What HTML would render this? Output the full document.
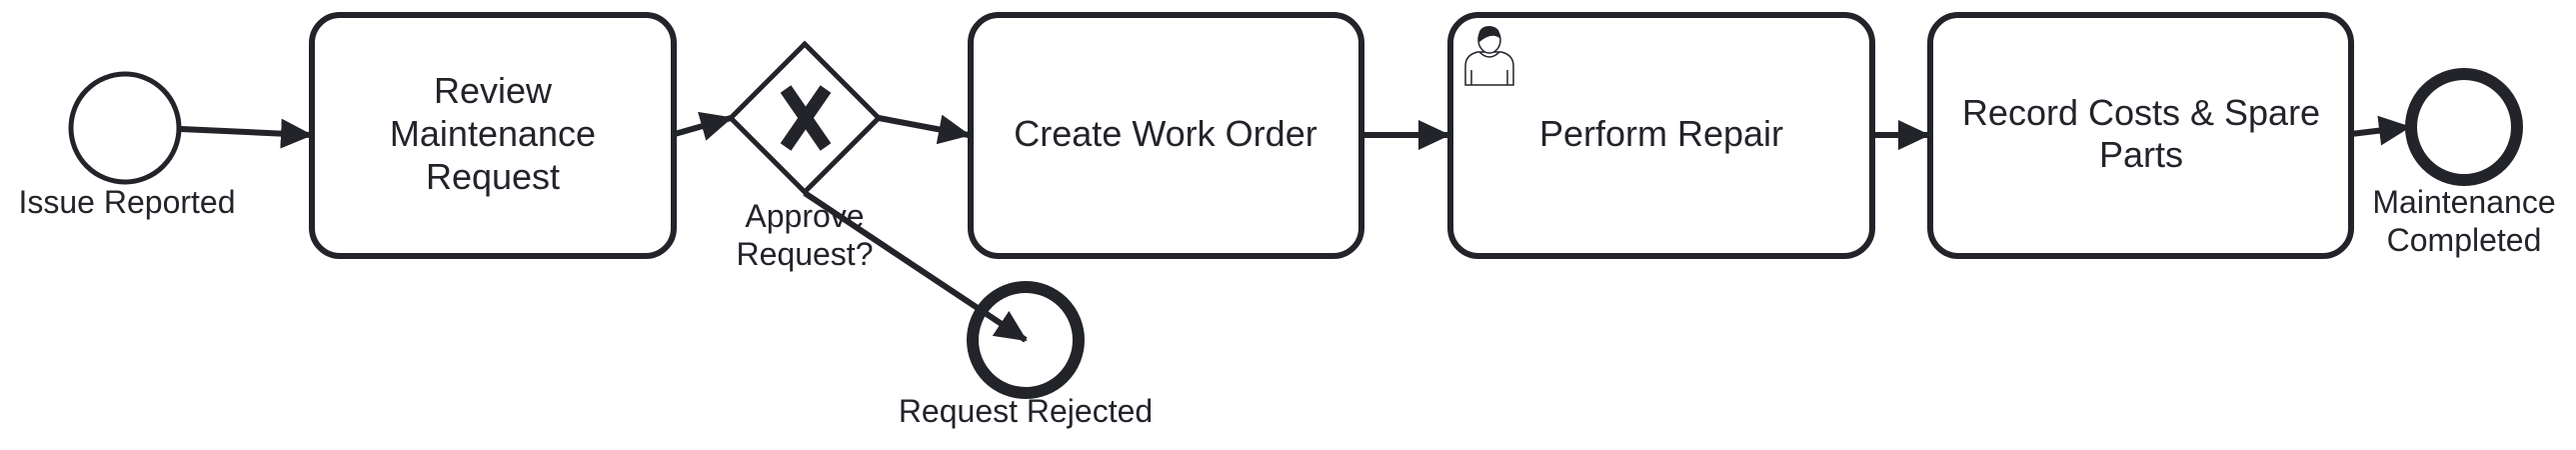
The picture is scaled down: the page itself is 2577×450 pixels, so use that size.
<!DOCTYPE html>
<html><head><meta charset="utf-8"><style>
html,body{margin:0;padding:0;background:#fff;}
svg{display:block;}
text{font-family:"Liberation Sans",sans-serif;fill:#22242a;}
</style></head><body>
<svg width="2577" height="450" viewBox="0 0 2577 450" xmlns="http://www.w3.org/2000/svg">
<defs>
<marker id="a" markerUnits="userSpaceOnUse" markerWidth="32" markerHeight="30" refX="30" refY="15" orient="auto">
<path d="M0,0 L32,15 L0,30 Z" fill="#22242a"/>
</marker>
</defs>
<g stroke="#22242a" fill="none" stroke-width="6">
<circle cx="125" cy="128" r="54" stroke-width="5"/>
<line x1="181" y1="129" x2="311" y2="135" marker-end="url(#a)"/>
<rect x="312" y="15" width="362" height="241" rx="28"/>
<line x1="675" y1="134" x2="731" y2="118" marker-end="url(#a)"/>
<path d="M805,44 L879,118 L805,192 L731,118 Z" stroke-width="5"/>
<line x1="879" y1="118" x2="969" y2="135" marker-end="url(#a)"/>
<line x1="805" y1="193" x2="1026" y2="340" marker-end="url(#a)"/>
<rect x="971" y="15" width="391" height="241" rx="28"/>
<line x1="1362" y1="135" x2="1449" y2="135" marker-end="url(#a)"/>
<rect x="1451" y="15" width="422" height="241" rx="28"/>
<line x1="1873" y1="135" x2="1929" y2="135" marker-end="url(#a)"/>
<rect x="1931" y="15" width="421" height="241" rx="28"/>
<line x1="2352" y1="134" x2="2410" y2="127" marker-end="url(#a)"/>
<circle cx="2465" cy="127" r="53" stroke-width="12"/>
<circle cx="1026" cy="340" r="53" stroke-width="12"/>
</g>
<g stroke="#22242a" stroke-width="13" stroke-linecap="butt">
<line x1="786" y1="89" x2="826" y2="147"/>
<line x1="826" y1="89" x2="786" y2="147"/>
</g>
<g stroke="#22242a" stroke-width="1.5" fill="#fff">
<path d="M1466,85 L1466,66 Q1466,55 1478,52 L1502,52 Q1514,55 1514,66 L1514,85 Z"/>
<path d="M1472,85 L1472,70 M1508,85 L1508,70" fill="none"/>
<path d="M1480,52 Q1490,62 1500,52" fill="none"/>
<ellipse cx="1490" cy="40" rx="11" ry="13"/>
</g>
<path d="M1479,40 Q1478,26 1490,26 Q1502,27 1500,38 Q1492,32 1480,42 Z" fill="#22242a"/>
<g font-size="36" text-anchor="middle">
<text x="493" y="103">Review</text>
<text x="493" y="146">Maintenance</text>
<text x="493" y="189">Request</text>
<text x="1166" y="146">Create Work Order</text>
<text x="1662" y="146">Perform Repair</text>
<text x="2142" y="125">Record Costs &amp; Spare</text>
<text x="2142" y="167">Parts</text>
</g>
<g font-size="32" text-anchor="middle">
<text x="127" y="213">Issue Reported</text>
<text x="805" y="227">Approve</text>
<text x="805" y="265">Request?</text>
<text x="1026" y="422">Request Rejected</text>
<text x="2465" y="213">Maintenance</text>
<text x="2465" y="251">Completed</text>
</g>
</svg>
</body></html>
